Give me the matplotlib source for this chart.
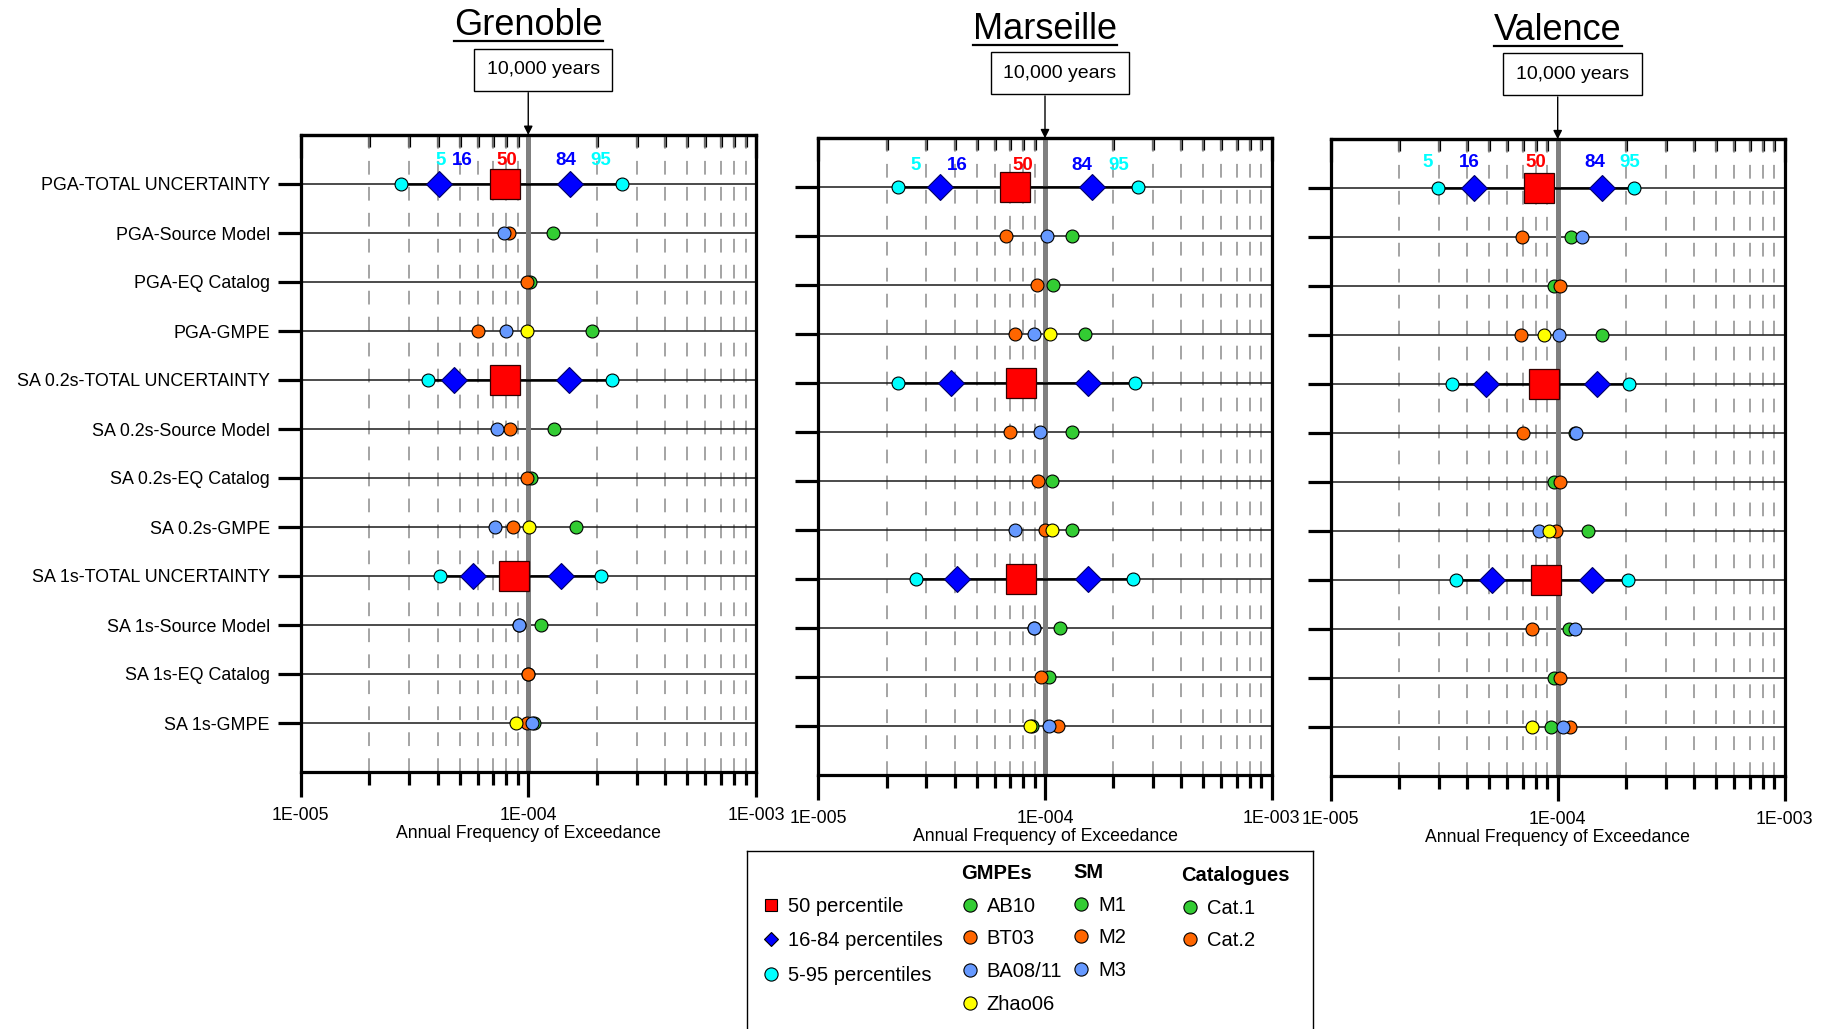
import numpy as np
import matplotlib
matplotlib.use('Agg')
import matplotlib.pyplot as plt
from matplotlib.ticker import FixedLocator, FixedFormatter, LogLocator, NullFormatter
from matplotlib.lines import Line2D

plt.rcParams['font.family'] = ['Liberation Sans', 'DejaVu Sans']

# ---------------- data ----------------
cities = ['Grenoble', 'Marseille', 'Valence']
row_labels = ['PGA-TOTAL UNCERTAINTY', 'PGA-Source Model', 'PGA-EQ Catalog', 'PGA-GMPE',
              'SA 0.2s-TOTAL UNCERTAINTY', 'SA 0.2s-Source Model', 'SA 0.2s-EQ Catalog', 'SA 0.2s-GMPE',
              'SA 1s-TOTAL UNCERTAINTY', 'SA 1s-Source Model', 'SA 1s-EQ Catalog', 'SA 1s-GMPE']
x_ticks = [1e-5, 1e-4, 1e-3]
x_ticklabels = ['1E-005', '1E-004', '1E-003']
return_period = '10,000 years'
pct_names = ['5', '16', '50', '84', '95']

# total uncertainty: rows = PGA, SA 0.2s, SA 1s ; cols = p5, p16, p50, p84, p95
total_gre = [[2.76e-5, 4.07e-5, 7.87e-5, 1.52e-4, 2.58e-4],
             [3.64e-5, 4.72e-5, 7.93e-5, 1.51e-4, 2.34e-4],
             [4.10e-5, 5.70e-5, 8.65e-5, 1.39e-4, 2.09e-4]]
total_mar = [[2.24e-5, 3.45e-5, 7.40e-5, 1.62e-4, 2.56e-4],
             [2.24e-5, 3.84e-5, 7.84e-5, 1.54e-4, 2.50e-4],
             [2.69e-5, 4.10e-5, 7.87e-5, 1.55e-4, 2.44e-4]]
total_val = [[2.98e-5, 4.28e-5, 8.27e-5, 1.57e-4, 2.17e-4],
             [3.42e-5, 4.81e-5, 8.73e-5, 1.49e-4, 2.07e-4],
             [3.58e-5, 5.13e-5, 8.90e-5, 1.42e-4, 2.03e-4]]

# source models M1, M2, M3 (PGA, SA 0.2s, SA 1s)
sm_gre = [[1.29e-4, 1.30e-4, 1.14e-4],
          [8.26e-5, 8.31e-5, 9.10e-5],
          [7.80e-5, 7.31e-5, 9.10e-5]]
sm_mar = [[1.32e-4, 1.32e-4, 1.16e-4],
          [6.70e-5, 6.98e-5, 8.90e-5],
          [1.02e-4, 9.50e-5, 8.90e-5]]
sm_val = [[1.15e-4, 1.19e-4, 1.12e-4],
          [6.98e-5, 7.00e-5, 7.70e-5],
          [1.28e-4, 1.20e-4, 1.19e-4]]

# catalogues Cat.1, Cat.2
cat_gre = [[1.02e-4, 1.03e-4, 1.00e-4],
           [9.90e-5, 9.90e-5, 1.00e-4]]
cat_mar = [[1.08e-4, 1.07e-4, 1.04e-4],
           [9.20e-5, 9.30e-5, 9.60e-5]]
cat_val = [[9.60e-5, 9.60e-5, 9.60e-5],
           [1.02e-4, 1.02e-4, 1.02e-4]]

# GMPEs AB10, BT03, BA08/11, Zhao06
gmpe_gre = [[1.91e-4, 1.62e-4, 1.06e-4],
            [6.04e-5, 8.60e-5, 9.90e-5],
            [7.98e-5, 7.14e-5, 1.04e-4],
            [9.90e-5, 1.01e-4, 8.83e-5]]
gmpe_mar = [[1.50e-4, 1.31e-4, 8.80e-5],
            [7.40e-5, 1.00e-4, 1.14e-4],
            [8.90e-5, 7.40e-5, 1.04e-4],
            [1.05e-4, 1.07e-4, 8.60e-5]]
gmpe_val = [[1.56e-4, 1.36e-4, 9.30e-5],
            [6.87e-5, 9.80e-5, 1.13e-4],
            [1.01e-4, 8.30e-5, 1.06e-4],
            [8.70e-5, 9.20e-5, 7.70e-5]]

gmpe_names = ['AB10', 'BT03', 'BA08/11', 'Zhao06']
sm_names = ['M1', 'M2', 'M3']
cat_names = ['Cat.1', 'Cat.2']

panels = {'Grenoble': (total_gre, sm_gre, cat_gre, gmpe_gre),
          'Marseille': (total_mar, sm_mar, cat_mar, gmpe_mar),
          'Valence': (total_val, sm_val, cat_val, gmpe_val)}

# ---------------- styles / layout ----------------
GREEN = '#33cc33'
ORANGE = '#ff6600'
LBLUE = '#6699ff'
YELLOW = '#ffff00'
CYAN = '#00ffff'
BLUE = '#0000ff'
RED = '#ff0000'
pct_colors = [CYAN, BLUE, RED, BLUE, CYAN]
src_colors = [GREEN, ORANGE, LBLUE]
cat_colors = [GREEN, ORANGE]
gm_colors = [GREEN, ORANGE, LBLUE, YELLOW]

W, H = 1825, 1029
# axes boxes in pixels: left, top, right, bottom
boxes = [(300.5, 135.0, 756.0, 772.0),
         (818.3, 138.3, 1271.7, 775.3),
         (1330.7, 139.3, 1784.7, 776.3)]
# x position of the percentile labels on top row (per panel) and their y offset
pct_label_x = [[4.12e-5, 5.15e-5, 8.04e-5, 1.46e-4, 2.08e-4],
               [2.69e-5, 4.10e-5, 8.00e-5, 1.46e-4, 2.11e-4],
               [2.67e-5, 4.06e-5, 8.00e-5, 1.45e-4, 2.08e-4]]
pct_label_y = [-0.47, -0.45, -0.53]

fig = plt.figure(figsize=(W / 100, H / 100), dpi=100)
titles = []
circ = dict(marker='o', ls='none', ms=9.3, mec='black', mew=0.8)

for k, city in enumerate(cities):
    l, t, r, b = boxes[k]
    ax = fig.add_axes([l / W, 1 - b / H, (r - l) / W, (b - t) / H])
    total, sm, cat, gm = panels[city]
    ax.set_xscale('log')
    ax.set_xlim(1e-5, 1e-3)
    ax.set_ylim(len(row_labels), -1)

    # axis styling
    for s in ax.spines.values():
        s.set_linewidth(2.3)
    ax.xaxis.set_major_locator(FixedLocator(x_ticks))
    ax.xaxis.set_major_formatter(FixedFormatter(x_ticklabels))
    ax.xaxis.set_minor_locator(LogLocator(base=10, subs=np.arange(2, 10)))
    ax.xaxis.set_minor_formatter(NullFormatter())
    ax.tick_params(axis='x', which='major', direction='out', length=18, width=2.3,
                   labelsize=12.8, pad=7, top=False)
    ax.tick_params(axis='x', which='minor', direction='out', length=9.4, width=2.3, top=False)
    ax.set_yticks(range(len(row_labels)))
    ax.set_yticklabels(row_labels if k == 0 else [])
    ax.tick_params(axis='y', direction='out', length=16.5, width=2.3, pad=5.5,
                   labelsize=12.9, right=False)
    ax.set_xlabel('Annual Frequency of Exceedance', fontsize=12.7, labelpad=1)

    sec = ax.secondary_xaxis('top')
    sec.xaxis.set_major_locator(FixedLocator(x_ticks))
    sec.xaxis.set_minor_locator(LogLocator(base=10, subs=np.arange(2, 10)))
    sec.xaxis.set_major_formatter(NullFormatter())
    sec.xaxis.set_minor_formatter(NullFormatter())
    sec.tick_params(which='major', direction='in', length=16.5, width=2.3)
    sec.tick_params(which='minor', direction='in', length=8.6, width=2.3)
    sec.spines['top'].set_linewidth(2.3)

    ax.xaxis.grid(True, which='minor', color='#8c8c8c', lw=1.1, ls=(0, (9, 8)))
    ax.axvline(1e-4, color='#808080', lw=3.6, zorder=2.5)
    for i in range(len(row_labels)):
        ax.axhline(i, color='#1a1a1a', lw=1.1, zorder=2)

    for p in range(3):
        y0 = 4 * p
        tv = total[p]
        ax.plot([tv[0], tv[4]], [y0, y0], color='black', lw=1.8, zorder=3)
        ax.plot([tv[0], tv[4]], [y0, y0], mfc=CYAN, zorder=4, **circ)
        ax.plot([tv[1], tv[3]], [y0, y0], marker='D', ls='none', ms=12.8, mfc=BLUE,
                mec='#000066', mew=0.8, zorder=4)
        ax.plot(tv[2], y0, marker='s', ls='none', ms=22.3, mfc=RED, mec='#330000',
                mew=0.9, zorder=4)
        for j in range(3):
            ax.plot(sm[j][p], y0 + 1, mfc=src_colors[j], zorder=4 + j * 0.1, **circ)
        for j in range(2):
            ax.plot(cat[j][p], y0 + 2, mfc=cat_colors[j], zorder=4 + j * 0.1, **circ)
        for j in range(4):
            ax.plot(gm[j][p], y0 + 3, mfc=gm_colors[j], zorder=4 + j * 0.1, **circ)

    for j in range(5):
        ax.text(pct_label_x[k][j], pct_label_y[k], pct_names[j], color=pct_colors[j],
                fontsize=13.5, fontweight='bold', ha='center', va='center', zorder=5)

    # return-period box, arrow and city title
    ax.annotate(return_period, xy=(1e-4, 1), xycoords=('data', 'axes fraction'),
                xytext=(10.8, 46.8), textcoords='offset points', ha='center', va='center',
                fontsize=14, annotation_clip=False,
                bbox=dict(boxstyle='square,pad=0.65', fc='white', ec='black', lw=1.0))
    ax.annotate('', xy=(1e-4, 1), xycoords=('data', 'axes fraction'),
                xytext=(0, 30.5), textcoords='offset points', annotation_clip=False,
                arrowprops=dict(arrowstyle='-|>', color='black', lw=1.0,
                                shrinkA=0, shrinkB=0, mutation_scale=13))
    ttl = ax.annotate(city, xy=(1e-4, 1), xycoords=('data', 'axes fraction'),
                      xytext=(0, 78.5), textcoords='offset points', ha='center',
                      va='center', fontsize=26, annotation_clip=False)
    titles.append(ttl)

# ---------------- legend ----------------
lx0, ly0, lx1 = 747, 851, 1313
lax = fig.add_axes([lx0 / W, -0.05, (lx1 - lx0) / W, (H - ly0) / H + 0.05])
lax.set_xticks([])
lax.set_yticks([])
for s in lax.spines.values():
    s.set_linewidth(1.0)
lax.patch.set_alpha(0)


def h(color, marker='o', ms=9.5):
    return Line2D([], [], marker=marker, ls='none', ms=ms, mfc=color, mec='black', mew=0.8)


leg_kw = dict(loc='upper left', frameon=False, fontsize=14.5, handlelength=0.8,
              handletextpad=0.45, labelspacing=0.76, borderpad=0, borderaxespad=0,
              alignment='left', title_fontproperties={'weight': 'bold', 'size': 14.5})
leg_kw2 = dict(leg_kw, labelspacing=0.68)

fig.legend([h(RED, 's', 9), h(BLUE, 'D', 7), h(CYAN)],
           ['50 percentile', '16-84 percentiles', '5-95 percentiles'],
           bbox_to_anchor=(762.5 / W, 1 - 897 / H), **leg_kw)
fig.legend([h(c) for c in gm_colors], gmpe_names, title='GMPEs',
           bbox_to_anchor=(961.5 / W, 1 - 864 / H), **leg_kw2)
fig.legend([h(c) for c in src_colors], sm_names, title='SM',
           bbox_to_anchor=(1073 / W, 1 - 863 / H), **leg_kw2)
fig.legend([h(c) for c in cat_colors], cat_names, title='Catalogues',
           bbox_to_anchor=(1181.5 / W, 1 - 866 / H), **leg_kw2)

# underline the city titles
fig.canvas.draw()
for ttl in titles:
    bb = ttl.get_window_extent()
    yy = (bb.y0 + 2) / H
    fig.add_artist(Line2D([bb.x0 / W, bb.x1 / W], [yy, yy], color='black', lw=1.6,
                          transform=fig.transFigure))

fig.savefig('out.png', dpi=100)
